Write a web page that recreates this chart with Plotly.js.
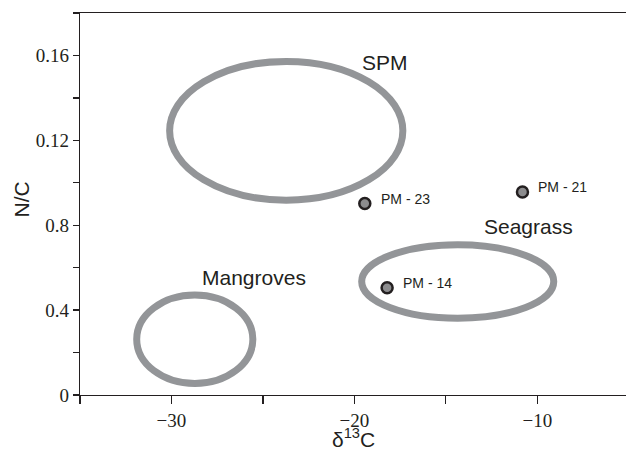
<!DOCTYPE html>
<html>
<head>
<meta charset="utf-8">
<script src="https://cdn.plot.ly/plotly-3.0.1.min.js"></script>
<style>html,body{margin:0;padding:0;background:#fff;}#chart{width:626px;height:453px;}</style>
</head>
<body>
<div id="chart"></div>
<script>
// Source groups (ellipse extents in data units)
const groupNames = ["SPM", "Mangroves", "Seagrass"];
const groupXMin = [-30.1, -31.9, -19.6];
const groupXMax = [-17.35, -25.55, -9.1];
const groupYMin = [0.0918, 0.0054, 0.0362];
const groupYMax = [0.1572, 0.0471, 0.0708];

// Samples
const sampleNames = ["PM - 23", "PM - 21", "PM - 14"];
const sampleX = [-19.43, -10.81, -18.21];
const sampleY = [0.0902, 0.0957, 0.0505];

// Axis ticks (labels as printed in the original figure)
const xTickVals = [-30, -20, -10];
const xTickText = ["\u221230", "\u221220", "\u221210"];
const yTickVals = [0, 0.04, 0.08, 0.12, 0.16];
const yTickText = ["0", "0.4", "0.8", "0.12", "0.16"];
const xTitle = "\u03b4<sup>13</sup>C";
const yTitle = "N/C";

// Label placement for group names (layout only)
const groupLabelAt = {SPM: [-18.3, 0.1565], Mangroves: [-25.5, 0.0555], Seagrass: [-10.5, 0.0795]};

const axisColor = "#231f20";
const ringColor = "#939598";
const sansFont = "Liberation Sans, Arial, sans-serif";
const serifFont = "Liberation Serif, Times New Roman, serif";

const shapes = groupNames.map((g, i) => ({
  type: "circle", xref: "x", yref: "y", layer: "below",
  x0: groupXMin[i], x1: groupXMax[i], y0: groupYMin[i], y1: groupYMax[i],
  line: {color: ringColor, width: 7}
}));

const annotations = [];
groupNames.forEach(g => {
  annotations.push({
    x: groupLabelAt[g][0], y: groupLabelAt[g][1], xref: "x", yref: "y",
    text: g, showarrow: false,
    font: {family: sansFont, size: 21, color: "#231f20"}
  });
});
sampleNames.forEach((s, i) => {
  annotations.push({
    x: sampleX[i], y: sampleY[i], xref: "x", yref: "y",
    text: s, showarrow: false, xanchor: "left", xshift: 14, yshift: 5,
    font: {family: sansFont, size: 14, color: "#231f20"}
  });
});
// Axis titles
annotations.push({
  x: 0.5, y: -0.1516, xref: "paper", yref: "paper", xanchor: "center", yanchor: "bottom",
  text: xTitle, showarrow: false, font: {family: sansFont, size: 21, color: "#231f20"}
});
annotations.push({
  x: -0.108, y: 0.512, xref: "paper", yref: "paper", xanchor: "center", yanchor: "middle",
  text: yTitle, textangle: -90, showarrow: false, font: {family: sansFont, size: 21, color: "#231f20"}
});

const trace = {
  x: sampleX, y: sampleY, text: sampleNames, type: "scatter", mode: "markers",
  marker: {size: 11, color: "#8c8c8e", line: {color: axisColor, width: 2.5}},
  hoverinfo: "text", showlegend: false
};

const layout = {
  width: 626, height: 453,
  margin: {l: 80, r: 0, t: 12.5, b: 58},
  paper_bgcolor: "#fff", plot_bgcolor: "#fff",
  showlegend: false,
  xaxis: {
    range: [-35, -5.15], showgrid: false, zeroline: false,
    showline: true, linecolor: axisColor, linewidth: 1.3, mirror: true,
    ticks: "outside", ticklen: 8, tickwidth: 1.3, tickcolor: axisColor,
    tickmode: "array", tickvals: xTickVals, ticktext: xTickText,
    minor: {ticks: "outside", ticklen: 8, tickwidth: 1.3, tickcolor: axisColor, tick0: -35, dtick: 5, showgrid: false},
    tickfont: {family: serifFont, size: 19, color: "#231f20"}
  },
  yaxis: {
    range: [0, 0.18], showgrid: false, zeroline: false,
    showline: true, linecolor: axisColor, linewidth: 1.3,
    ticks: "outside", ticklen: 6, tickwidth: 1.3, tickcolor: axisColor,
    tickmode: "array", tickvals: yTickVals, ticktext: yTickText,
    minor: {ticks: "outside", ticklen: 6, tickwidth: 1.3, tickcolor: axisColor, tick0: 0, dtick: 0.02, showgrid: false},
    tickfont: {family: serifFont, size: 19, color: "#231f20"}
  },
  shapes: shapes,
  annotations: annotations
};

Plotly.newPlot("chart", [trace], layout, {displayModeBar: false, staticPlot: true});
</script>
</body>
</html>
